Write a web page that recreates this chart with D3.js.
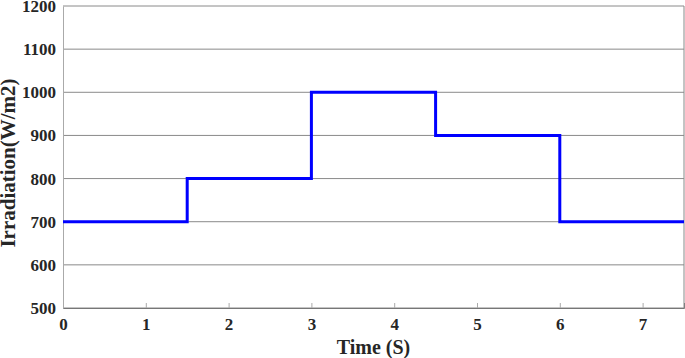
<!DOCTYPE html>
<head>
    <meta charset="utf-8">
    <script src="https://d3js.org/d3.v7.min.js"></script>
    <style>
        body { margin: 0; background: #fff; }
        text { font-family: "Liberation Serif", "Times New Roman", serif; font-weight: bold; fill: #262626; }
    </style>
</head>

<body>
    <div id="chart"></div>
</body>

<script>
    // step points (time in s, irradiation in W/m2)
    const times = [0, 1.5, 3, 4.5, 6, 7.5];
    const irradiation = [700, 800, 1000, 900, 700, 700];
    const xTicks = [0, 1, 2, 3, 4, 5, 6, 7];
    const yTicks = [500, 600, 700, 800, 900, 1000, 1100, 1200];

    const margin = {top: 6, right: 1, bottom: 50, left: 63},
        width = 685 - margin.left - margin.right,
        height = 358 - margin.top - margin.bottom;

    const svg = d3.select("#chart")
        .append("svg")
            .attr("width", 685)
            .attr("height", 358)
        .append("g")
            .attr("transform", `translate(${margin.left},${margin.top})`);

    const x = d3.scaleLinear().domain([0, 7.5]).range([0, width]);
    const y = d3.scaleLinear().domain([500, 1200]).range([height, 0]);

    // horizontal grid
    svg.append("g")
        .selectAll("line")
        .data(yTicks)
        .join("line")
            .attr("x1", 0)
            .attr("x2", width)
            .attr("y1", d => y(d))
            .attr("y2", d => y(d))
            .attr("stroke", "#8a8a8a")
            .attr("stroke-width", 1);

    // x axis
    const xa = svg.append("g")
        .attr("transform", `translate(0,${height})`)
        .call(d3.axisBottom(x).tickValues(xTicks).tickSize(-5).tickPadding(10).tickFormat(d3.format("d")));
    xa.select(".domain").attr("stroke", "#777");
    xa.selectAll(".tick line").attr("stroke", "#aaa");
    xa.selectAll("text").style("font-size", "17px");

    // y axis
    const ya = svg.append("g")
        .call(d3.axisLeft(y).tickValues(yTicks).tickSize(0).tickPadding(7).tickFormat(d3.format("d")));
    ya.select(".domain").attr("stroke", "#aaa");
    ya.selectAll("text").style("font-size", "17px");

    // right border
    svg.append("line")
        .attr("x1", width).attr("x2", width)
        .attr("y1", 0).attr("y2", height)
        .attr("stroke", "#888");

    // step line
    const pts = times.map((t, i) => [t, irradiation[i]]);
    svg.append("path")
        .datum(pts)
        .attr("fill", "none")
        .attr("stroke", "#0000ff")
        .attr("stroke-width", 3)
        .attr("d", d3.line()
            .x(d => x(d[0]))
            .y(d => y(d[1]))
            .curve(d3.curveStepAfter));

    // axis titles
    svg.append("text")
        .attr("x", width / 2)
        .attr("y", height + 46)
        .attr("text-anchor", "middle")
        .style("font-size", "20px")
        .text("Time (S)");

    svg.append("text")
        .attr("transform", `translate(${-48},${height / 2 + 6}) rotate(-90)`)
        .attr("text-anchor", "middle")
        .style("font-size", "21px")
        .text("Irradiation(W/m2)");
</script>
</html>
